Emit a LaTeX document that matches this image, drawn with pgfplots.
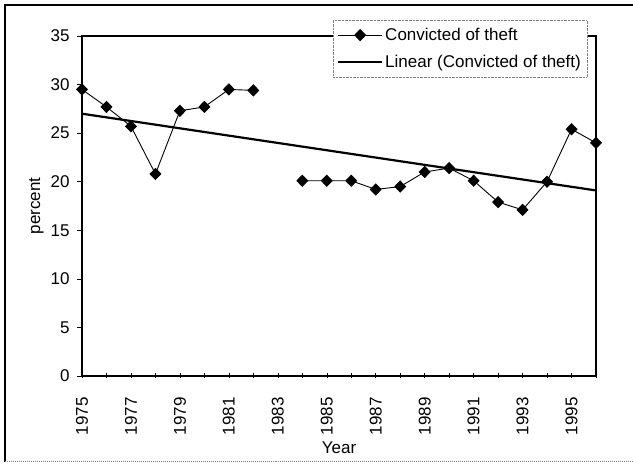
\documentclass[border=0pt]{standalone}
\usepackage{pgfplots}
\pgfplotsset{compat=1.18}
\usepackage{fontspec}
\setmainfont{Liberation Sans}
\begin{document}
\begin{tikzpicture}[x=1bp,y=1bp]
\path[use as bounding box] (0,0) rectangle (633,473);
\draw[line width=2bp] (5,11) -- (5,468) -- (633,468);
\draw[densely dotted, gray, line width=1bp] (5,11) -- (633,11);
\begin{axis}[
  at={(82bp,97bp)}, anchor=south west,
  scale only axis, width=514bp, height=340bp,
  xmin=1975, xmax=1996, ymin=0, ymax=35,
  xtick={1975,1977,...,1995},
  minor xtick={1976,1978,...,1996},
  ytick={0,5,...,35},
  xtick pos=bottom, ytick pos=left,
  font=\fontsize{17bp}{20bp}\selectfont,
  /pgf/number format/assume math mode=true,
  xticklabel style={/pgf/number format/1000 sep={}, rotate=90, anchor=east, xshift=-13bp},
  yticklabel style={xshift=-4bp},
  xlabel={Year}, ylabel={percent},
  xlabel style={yshift=0bp},
  ylabel style={yshift=0bp},
  axis line style={line width=1.2bp},
  tick style={black, line width=0.5bp},
  x tick style={/pgfplots/tick align=center},
  tick align=outside,
  major tick length=5bp, minor tick length=5bp,
  legend cell align=left,
  legend style={at={(0.488,1.047)}, anchor=north west, draw=gray, densely dotted, fill=white, inner xsep=4bp, inner ysep=6bp, row sep=9bp, font=\fontsize{17bp}{20bp}\selectfont, nodes={inner sep=2bp}},
  legend image post style={solid},
  legend image code/.code={\draw[#1] (0bp,0bp) -- (44bp,0bp) plot coordinates {(22bp,0bp)};},
]
\addplot[black, line width=0.9bp, mark=diamond*, mark size=5.5bp, mark options={xscale=1.3}, unbounded coords=jump] coordinates {
(1975,29.5) (1976,27.7) (1977,25.7) (1978,20.8) (1979,27.3) (1980,27.7) (1981,29.5) (1982,29.4)
(1983,nan)
(1984,20.1) (1985,20.1) (1986,20.1) (1987,19.2) (1988,19.5) (1989,21.0) (1990,21.4) (1991,20.1)
(1992,17.9) (1993,17.1) (1994,20.0) (1995,25.4) (1996,24.0)
};
\addlegendentry{Convicted of theft}
\addplot[black, line width=2.2bp, mark=none] coordinates {(1975,27.0) (1996,19.1)};
\addlegendentry{Linear (Convicted of theft)}
\end{axis}
\end{tikzpicture}
\end{document}
